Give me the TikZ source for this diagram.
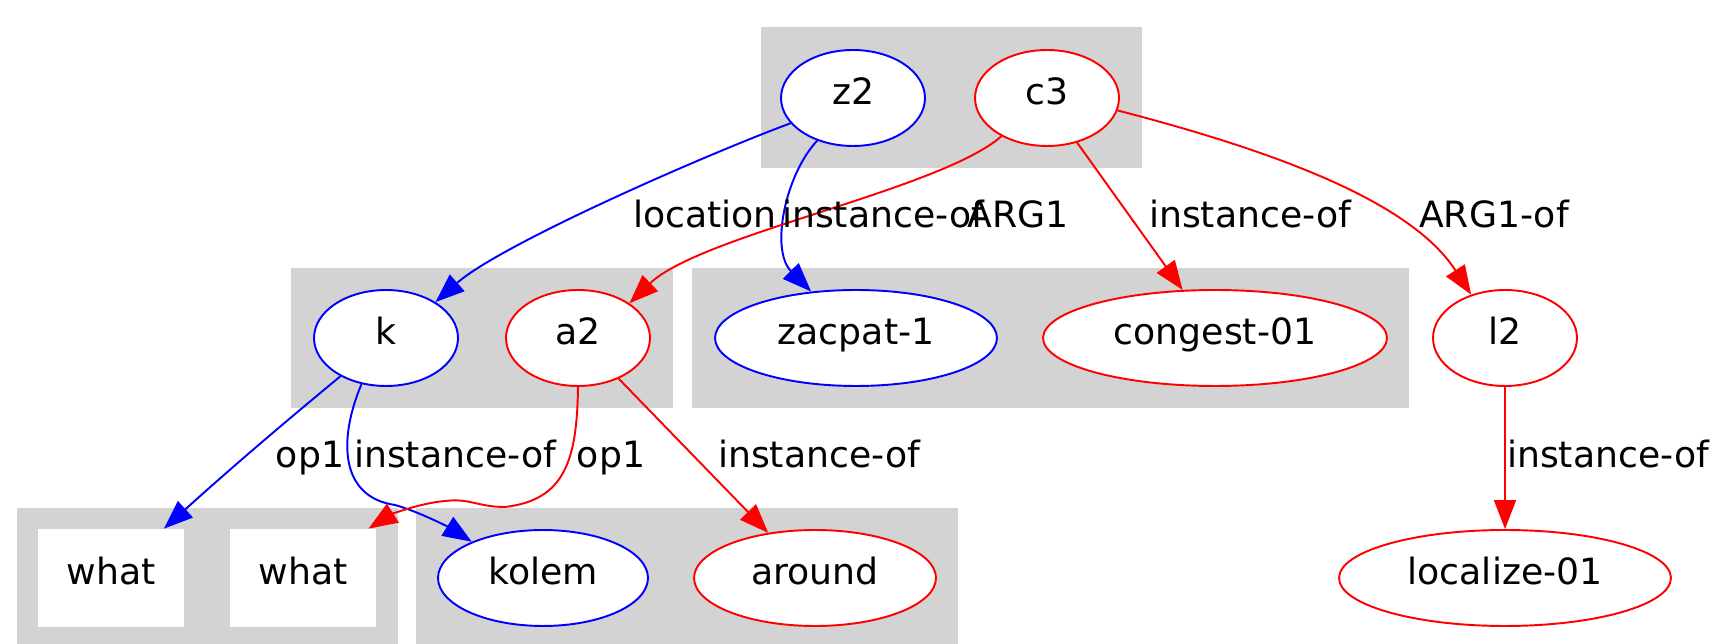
\documentclass[tikz,border=0pt]{standalone}
\usepackage{fontspec}
\setmainfont{DejaVu Sans}
\usepackage{tikz}
\usetikzlibrary{arrows.meta, shapes.geometric}
\definecolor{clusterGray}{HTML}{D3D3D3}

\begin{document}
\begin{tikzpicture}[
        x=0.02cm, y=-0.02cm,
        every node/.style={font=\fontsize{20.6}{24}\selectfont},
        bluenode/.style={ellipse, draw=blue, line width=1.1pt, fill=white, inner sep=0pt,
                         text height=0.73em, text depth=0pt,
                         minimum width=2.88cm, minimum height=1.92cm},
        rednode/.style={bluenode, draw=red},
        wordbox/.style={rectangle, fill=white, inner sep=0pt,
                        text height=0.73em, text depth=0pt,
                        minimum width=2.92cm, minimum height=1.96cm},
        edgelbl/.style={anchor=base, inner sep=0pt},
        clusterbg/.style={fill=clusterGray},
        blueedge/.style={draw=blue, line width=1.1pt, -{Triangle[length=5.8mm, width=4.4mm]}},
        rededge/.style={blueedge, draw=red},
      ]
        \useasboundingbox (0,0) rectangle (1713,644);

        % Clusters
        \fill[clusterbg] (761,27) rectangle (1142,168);
        \fill[clusterbg] (291,268) rectangle (673,408);
        \fill[clusterbg] (692,268) rectangle (1409,408);
        \fill[clusterbg] (17,508) rectangle (398,644);
        \fill[clusterbg] (416,508) rectangle (958,644);

        % Top row
        \node[bluenode] (z2) at (853,98) {z2};
        \node[rednode]  (c3) at (1047,98) {c3};

        % Middle row
        \node[bluenode] (k)  at (386,338) {k};
        \node[rednode]  (a2) at (578,338) {a2};
        \node[bluenode, minimum width=5.64cm] (zacpat)  at (856,338) {zacpat-1};
        \node[rednode,  minimum width=6.88cm] (congest) at (1215,338) {congest-01};
        \node[rednode]  (l2) at (1505,338) {l2};

        % Bottom row
        \node[wordbox] (what1) at (111,578) {what};
        \node[wordbox] (what2) at (303,578) {what};
        \node[bluenode, minimum width=4.2cm]  (kolem)    at (543,578) {kolem};
        \node[rednode,  minimum width=4.84cm] (around)   at (815,578) {around};
        \node[rednode,  minimum width=6.64cm] (localize) at (1505,578) {localize-01};

        % Edges
        \draw[blueedge] (z2.202) .. controls (700,157) and (500,245) .. (k.36);
        \draw[blueedge] (z2.230) .. controls (785,175) and (770,250) .. (zacpat.134);
        \draw[rededge] (c3.220) .. controls (940,190) and (700,235) .. (a2.34);
        \draw[rededge] (c3.304) -- (congest.124);
        \draw[rededge] (c3.350) .. controls (1270,150) and (1410,200) .. (l2.128);
        \draw[blueedge] (k.220) .. controls (290,418) and (240,460) .. (what1.43);
        \draw[blueedge] (k.242) .. controls (338,440) and (340,497) .. (395,505)
                        .. controls (420,512) and (450,528) .. (kolem.153);
        \draw[rededge] (a2.south) .. controls (577,460) and (565,500) .. (505,507)
                       .. controls (478,507) and (470,498) .. (445,501)
                       .. controls (420,503) and (390,515) .. (what2.37);
        \draw[rededge] (a2.315) -- (around.136);
        \draw[rededge] (l2.south) -- (localize.north);

        % Edge labels
        \node[edgelbl] (lblLocation) at (705,228) {location};
        \node[edgelbl] (lblZInst)    at (883,228) {instance-of};
        \node[edgelbl] (lblArgA)     at (1018,228) {ARG1};
        \node[edgelbl] (lblCInst)    at (1250,228) {instance-of};
        \node[edgelbl] (lblArgOf)    at (1494,228) {ARG1-of};
        \node[edgelbl] (lblKOp)      at (310,468) {op1};
        \node[edgelbl] (lblKInst)    at (455,468) {instance-of};
        \node[edgelbl] (lblAOp)      at (611,468) {op1};
        \node[edgelbl] (lblAInst)    at (819,468) {instance-of};
        \node[edgelbl] (lblLInst)    at (1608,468) {instance-of};
      \end{tikzpicture}
\end{document}
